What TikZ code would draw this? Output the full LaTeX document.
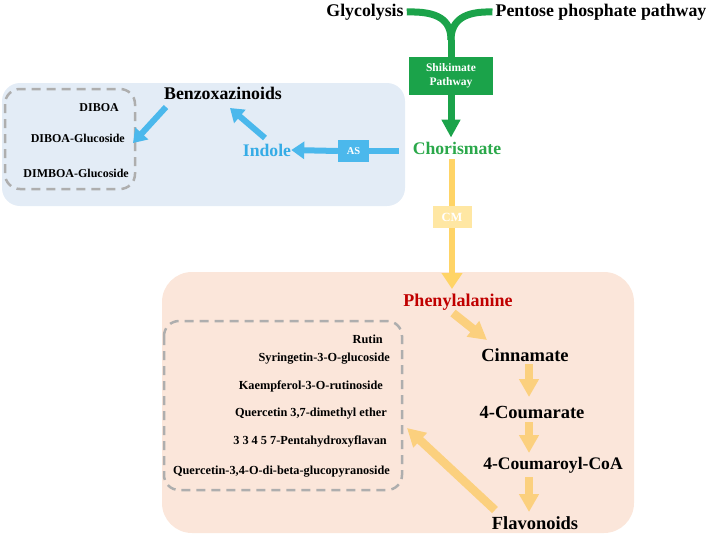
\documentclass[tikz,border=0pt]{standalone}
\usepackage{fontspec}
\setmainfont{Liberation Serif}
\usetikzlibrary{arrows.meta}
\definecolor{gr}{HTML}{1BA34A}
\definecolor{grtext}{HTML}{2AA84A}
\definecolor{bl}{HTML}{4BB8EC}
\definecolor{bltext}{HTML}{35ACE6}
\definecolor{yl}{HTML}{FFD466}
\definecolor{ylbox}{HTML}{FFE7A3}
\definecolor{fl}{HTML}{FBD07E}
\definecolor{bluepanel}{HTML}{E3ECF6}
\definecolor{orpanel}{HTML}{FBE6DA}
\definecolor{dash}{HTML}{AEAEAE}
\definecolor{phred}{HTML}{C00000}
\tikzset{
  big/.style={font=\bfseries\fontsize{17.8}{17.8}\selectfont},
  mid/.style={font=\bfseries\fontsize{18.5}{18.5}\selectfont},
  small/.style={font=\bfseries\fontsize{12}{12}\selectfont},
  fsmall/.style={font=\bfseries\fontsize{12.3}{12.3}\selectfont},
  dashbox/.style={draw=dash, line width=2.5pt, dash pattern=on 9pt off 6pt, rounded corners=15pt},
  blarrow/.style={draw=bl, line width=6pt, -{Triangle[width=17pt,length=13pt]}},
  blline/.style={draw=bl, line width=6pt},
  flarrow/.style={draw=fl, line width=8.5pt, -{Triangle[width=19pt,length=18pt]}},
  yline/.style={draw=yl, line width=6pt},
}
\begin{document}
\begin{tikzpicture}[x=1pt,y=-1pt, every node/.style={inner sep=0pt}]
\useasboundingbox (0,0) rectangle (709,536);
% panels
\fill[bluepanel, rounded corners=18pt] (2,83) rectangle (405,206);
\fill[orpanel, rounded corners=30pt] (162,272) rectangle (634,533);
\draw[dashbox] (5,89) rectangle (135,189);
\draw[dashbox] (164,321) rectangle (402,490);
% top
\node[big] (gly) at (365,12) {Glycolysis};
\node[big] (ppp) at (601,12) {Pentose phosphate pathway};
\node[fill=gr, minimum width=84pt, minimum height=38pt, text=white, align=center,
      font=\bfseries\fontsize{11.5}{14}\selectfont] (shik) at (451,76) {Shikimate\\Pathway};
\coordinate (fork) at (451,40);
\draw[gr, line width=7pt] (gly.east) ++(3,0) .. controls (438,11) and (451,20) .. (fork);
\draw[gr, line width=7pt] (ppp.west) ++(-3,0) .. controls (465,11) and (451,20) .. (fork);
\draw[gr, line width=7pt] (fork) -- (shik.north);
\node[text=grtext, font=\bfseries\fontsize{17.7}{17.7}\selectfont] (chor) at (457,148) {Chorismate};
\draw[gr, line width=7pt, -{Triangle[width=18pt,length=18pt]}, shorten >=4pt] (shik.south) -- (shik.south |- chor.north);
% blue branch
\node[fill=bl, minimum width=31pt, minimum height=22pt, text=white, font=\bfseries\fontsize{10.5}{10.5}\selectfont] (as) at (353.5,151) {AS};
\node[text=bltext, font=\bfseries\fontsize{17.7}{17.7}\selectfont] (ind) at (267,150) {Indole};
\node[big] (benz) at (223,93) {Benzoxazinoids};
\draw[blline, shorten <=14pt] (chor.west |- as.east) -- (as.east);
\draw[blarrow] (as.west) -- (ind.east);
\coordinate (i1) at (265,138);
\coordinate (b1) at (230,108);
\draw[blarrow] (i1) -- (b1);
\coordinate (b2) at (166,107);
\coordinate (d1) at (133,143);
\draw[blarrow] (b2) -- (d1);
\node[small, anchor=east] (diboa) at (119,108) {DIBOA};
\node[small, anchor=east] (diboag) at (125,138) {DIBOA-Glucoside};
\node[small, anchor=east] (dimboa) at (129,173) {DIMBOA-Glucoside};
% yellow
\node[fill=ylbox, minimum width=39pt, minimum height=22pt, text=white, font=\bfseries\fontsize{12.5}{12.5}\selectfont] (cm) at (452,217) {CM};
\node[text=phred, font=\bfseries\fontsize{18}{18}\selectfont] (phe) at (458,302) {Phenylalanine};
\draw[yline, shorten <=5pt] (cm.north |- chor.south) -- (cm.north);
\coordinate (phetop) at (452,289);
\draw[yline, -{Triangle[width=20pt,length=16pt]}] (cm.south) -- (phetop);
% flavonoid pathway
\node[mid] (cin) at (525,355) {Cinnamate};
\node[mid] (cou) at (532,412) {4-Coumarate};
\node[mid, font=\bfseries\fontsize{17.6}{17.6}\selectfont] (coa) at (553,465) {4-Coumaroyl-CoA};
\node[mid] (fla) at (535,523) {Flavonoids};
\coordinate (p1) at (453,313);
\coordinate (c1) at (487,340);
\draw[flarrow] (p1) -- (c1);
\draw[flarrow] (529,364) -- (529,397);
\draw[flarrow] (529,422) -- (529,453);
\draw[flarrow] (529,477) -- (529,512);
\coordinate (f1) at (495,510);
\coordinate (q1) at (407,428);
\draw[flarrow] (f1) -- (q1);
\node[fsmall, anchor=east] (rut) at (383,339) {Rutin};
\node[fsmall, anchor=east] (syr) at (390,359) {Syringetin-3-O-glucoside};
\node[fsmall, anchor=east] (kae) at (383,386) {Kaempferol-3-O-rutinoside};
\node[fsmall, anchor=east] (que) at (387,414) {Quercetin 3,7-dimethyl ether};
\node[fsmall, anchor=east] (pen) at (387,441) {3 3 4 5 7-Pentahydroxyflavan};
\node[fsmall, anchor=east] (qgl) at (390,472) {Quercetin-3,4-O-di-beta-glucopyranoside};
\end{tikzpicture}
\end{document}
